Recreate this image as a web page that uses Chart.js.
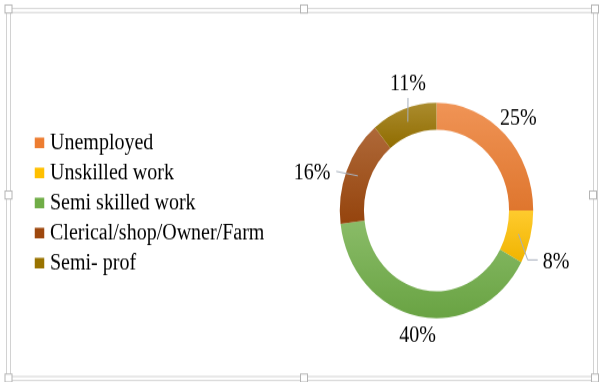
<!DOCTYPE html>
<html>
<head>
<meta charset="utf-8">
<script src="https://cdn.jsdelivr.net/npm/chart.js@4.4.1/dist/chart.umd.min.js"></script>
<style>
  html, body { margin: 0; padding: 0; background: #fff; }
  #marco { width: 599px; height: 382px; overflow: hidden; }
  /* el lienzo se dibuja más bajo y se estira en vertical */
  #contenedor { width: 599px; height: 343px; transform: scaleY(1.1137); transform-origin: 0 0; }
</style>
</head>
<body>
<div id="marco"><div id="contenedor"><canvas id="grafico" width="599" height="343"></canvas></div></div>
<script>
// Datos del gráfico
const categorias = ['Unemployed', 'Unskilled work', 'Semi skilled work', 'Clerical/shop/Owner/Farm', 'Semi- prof'];
const porcentajes = [25, 8, 40, 16, 11];
const colores = ['#ED7D31', '#FFC000', '#70AD47', '#9E480E', '#997300'];

// Colocación de las etiquetas de porcentaje (fuera del anillo)
const distancia = [1.196, 1.326, 1.18, 1.334, 1.211];    // x radio exterior
const ajusteAngulo = [0, 6.8, -1.3, -6.5, 5.7];           // grados respecto al centro del sector
const guias = ['', 'codo', '', 'recta', 'vertical'];       // tipo de línea guía

const ESCALA_Y = 382 / 343;
const CENTRO_X = 436.5;   // centro horizontal del anillo
const CORTE = 0.75;

// Mezcla un color hex con blanco (255) o negro (0)
function mezclar(hex, destino, t) {
  const n = parseInt(hex.slice(1), 16);
  const f = c => Math.round(c + (destino - c) * t);
  return 'rgb(' + f((n >> 16) & 255) + ',' + f((n >> 8) & 255) + ',' + f(n & 255) + ')';
}

// Degradado vertical de cada sector, de claro (arriba) a oscuro (abajo)
function rellenoSector(context) {
  const i = context.dataIndex;
  const base = colores[i];
  const area = context.chart.chartArea;
  if (!area) return base;
  const cy = (area.top + area.bottom) / 2;
  const rExt = Math.min(area.width, area.height) / 2;
  const rInt = rExt * CORTE;
  const total = porcentajes.reduce((a, b) => a + b, 0);
  let antes = 0;
  for (let k = 0; k < i; k++) antes += porcentajes[k];
  const a0 = antes / total * 2 * Math.PI - Math.PI / 2;
  const a1 = (antes + porcentajes[i]) / total * 2 * Math.PI - Math.PI / 2;
  let arriba = Infinity, abajo = -Infinity;
  for (let s = 0; s <= 48; s++) {
    const a = a0 + (a1 - a0) * s / 48;
    [rInt, rExt].forEach(r => {
      const y = cy + Math.sin(a) * r;
      arriba = Math.min(arriba, y);
      abajo = Math.max(abajo, y);
    });
  }
  const grad = context.chart.ctx.createLinearGradient(0, arriba, 0, abajo);
  grad.addColorStop(0, mezclar(base, 255, 0.18));
  grad.addColorStop(1, mezclar(base, 0, 0.06));
  return grad;
}

// Marco de selección con sus asas
const marcoPlugin = {
  id: 'marco',
  beforeDraw(chart) {
    const ctx = chart.ctx;
    const y = v => v / ESCALA_Y;
    ctx.save();
    ctx.fillStyle = '#fff';
    ctx.fillRect(0, 0, chart.width, chart.height);
    ctx.strokeStyle = '#D2D2D2';
    ctx.lineWidth = 1;
    ctx.strokeRect(6.5, y(8.5), 591, y(372));
    ctx.strokeRect(10.5, y(12.5), 583, y(364));
    const asas = [[8.5, 9], [304, 9], [595, 9], [8.5, 195], [593, 195], [8.5, 378], [304, 378], [595, 378]];
    ctx.fillStyle = '#fff';
    ctx.strokeStyle = '#B4B4B4';
    asas.forEach(([ax, ay]) => {
      ctx.fillRect(ax - 3.5, y(ay - 4), 7, y(8));
      ctx.strokeRect(ax - 3.5, y(ay - 4), 7, y(8));
    });
    ctx.restore();
  }
};

// Etiquetas de porcentaje con sus líneas guía
const etiquetasPlugin = {
  id: 'etiquetas',
  afterDatasetsDraw(chart) {
    const ctx = chart.ctx;
    const arcos = chart.getDatasetMeta(0).data;
    ctx.save();
    ctx.font = '20px "Liberation Serif", "Times New Roman", serif';
    ctx.textAlign = 'center';
    ctx.textBaseline = 'middle';
    arcos.forEach((arco, i) => {
      const p = arco.getProps(['x', 'y', 'startAngle', 'endAngle', 'outerRadius'], true);
      const medio = (p.startAngle + p.endAngle) / 2 + ajusteAngulo[i] * Math.PI / 180;
      const lx = p.x + Math.cos(medio) * p.outerRadius * distancia[i];
      const ly = p.y + Math.sin(medio) * p.outerRadius * distancia[i];
      const texto = porcentajes[i] + '%';
      const ancho = ctx.measureText(texto).width;
      const c = arco.tooltipPosition(true);

      ctx.strokeStyle = '#A7B0BD';
      ctx.lineWidth = 1;
      ctx.beginPath();
      if (guias[i] === 'codo') {
        ctx.moveTo(c.x, c.y);
        ctx.lineTo(lx - ancho / 2 - 15, ly - 2);
        ctx.lineTo(lx - ancho / 2 - 5, ly - 2);
      } else if (guias[i] === 'recta') {
        ctx.moveTo(lx + ancho / 2 + 6, ly - 1.5);
        ctx.lineTo(c.x, c.y);
      } else if (guias[i] === 'vertical') {
        ctx.moveTo(lx, ly + 12.5);
        ctx.lineTo(c.x, c.y);
      }
      ctx.stroke();

      ctx.fillStyle = '#000';
      ctx.fillText(texto, lx, ly);
    });
    ctx.restore();
  }
};

Chart.defaults.font.family = '"Liberation Serif", "Times New Roman", serif';
Chart.defaults.color = '#000';

const ctx = document.getElementById('grafico').getContext('2d');
const chart = new Chart(ctx, {
  type: 'doughnut',
  data: {
    labels: categorias,
    datasets: [{
      data: porcentajes,
      backgroundColor: rellenoSector,
      borderWidth: 0
    }]
  },
  options: {
    responsive: false,
    animation: false,
    cutout: (CORTE * 100) + '%',
    layout: { padding: { left: 32, right: 0, top: 78.9, bottom: 57.3 } },
    plugins: {
      // título vacío: solo baja el anillo respecto a la leyenda
      title: { display: true, text: '', padding: 0, font: { size: 10, lineHeight: 1.34 } },
      legend: {
        position: 'left',
        align: 'center',
        labels: {
          usePointStyle: true,
          pointStyle: 'rect',
          boxWidth: 1,
          boxHeight: 9.5,
          padding: 7,
          color: '#000',
          font: { size: 20 },
          generateLabels() {
            return categorias.map((texto, i) => ({
              text: texto,
              fillStyle: colores[i],
              strokeStyle: colores[i],
              lineWidth: 0,
              pointStyle: 'rect',
              fontColor: '#000',
              hidden: false,
              index: i
            }));
          }
        }
      },
      tooltip: { enabled: false }
    }
  },
  plugins: [marcoPlugin, etiquetasPlugin]
});

// Ajustar el relleno derecho para que el anillo quede centrado en CENTRO_X
chart.options.layout.padding.right = chart.width - (2 * CENTRO_X - chart.chartArea.left);
chart.update();
</script>
</body>
</html>
